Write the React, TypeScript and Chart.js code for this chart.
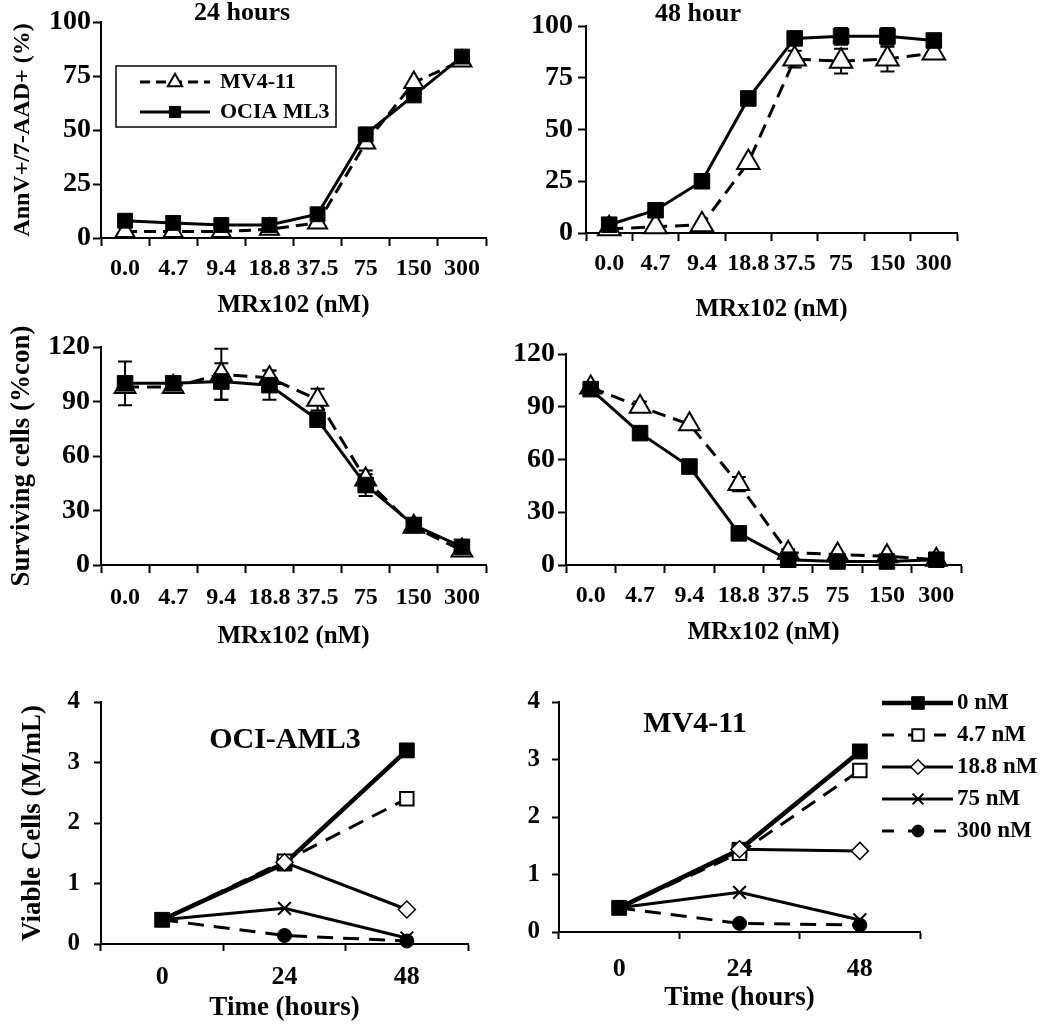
import React, { useEffect, useRef } from "react";
import { Chart, registerables } from "chart.js";
import { drawPoint } from "chart.js/helpers";

Chart.register(...registerables);

// ---------- DATA ----------
const doseLabels = ["0.0", "4.7", "9.4", "18.8", "37.5", "75", "150", "300"];
const timeLabels = ["0", "24", "48"];

// AnnV+/7-AAD+ (%) at 24 hours
const apop24Oci = [8, 7, 6, 6, 11, 48, 66, 84];
const apop24Mv = [3, 3, 3, 4, 7, 44, 72, 82];
// AnnV+/7-AAD+ (%) at 48 hours
const apop48Oci = [4, 11, 25, 65, 94, 95, 95, 93];
const apop48Mv = [2, 3, 4, 34, 84, 83, 84, 87];
const apop48OciErr = [0, 0, 0, 0, 3, 4, 4, 0];
const apop48MvErr = [0, 0, 0, 0, 4, 6, 6, 0];
// Surviving cells (%con) 24 h
const surv24Oci = [100, 100, 101, 99, 80, 44, 22, 10];
const surv24Mv = [98, 98, 105, 103, 91, 47, 21, 8];
const surv24OciErr = [12, 3, 10, 8, 3, 6, 3, 2];
const surv24MvErr = [3, 3, 14, 4, 6, 5, 3, 2];
// Surviving cells (%con) 48 h
const surv48Oci = [100, 75, 56, 18, 3, 2, 2, 3];
const surv48Mv = [101, 90, 80, 46, 7, 6, 5, 3];
const surv48MvErr = [3, 3, 0, 4, 2, 0, 0, 0];

// Viable cells (M/mL) OCI-AML3
const oci0nM = [0.4, 1.33, 3.2];
const oci4p7nM = [0.4, 1.37, 2.4];
const oci18p8nM = [0.4, 1.35, 0.57];
const oci75nM = [0.4, 0.59, 0.1];
const oci300nM = [0.4, 0.14, 0.05];
// Viable cells (M/mL) MV4-11
const mv0nM = [0.42, 1.43, 3.14];
const mv4p7nM = [0.42, 1.37, 2.81];
const mv18p8nM = [0.42, 1.44, 1.41];
const mv75nM = [0.42, 0.69, 0.21];
const mv300nM = [0.42, 0.15, 0.12];

const doseLegend = ["0 nM", "4.7 nM", "18.8 nM", "75 nM", "300 nM"];
const cellLines = ["OCIA ML3", "MV4-11"];

// ---------- STYLE ----------
const FAMILY = '"Liberation Serif", "Times New Roman", Times, serif';
const BLACK = "#000";
const font = (size: number) => ({ family: FAMILY, size, weight: "bold" as const });

type TextItem = { text: string; x: number; y: number; size: number };
type LegendCfg = {
  box?: [number, number, number, number];
  rows: { ds: number; y: number }[];
  x0: number;
  x1: number;
  mx: number;
  tx: number;
  size: number;
  dash: number[];
  markerScale: number;
};

function makeDecor(texts: TextItem[], legend?: LegendCfg) {
  return {
    id: "decor",
    beforeDatasetsDraw(chart: any) {
      const ctx = chart.ctx;
      const ys = chart.scales.y;
      chart.data.datasets.forEach((ds: any, i: number) => {
        if (!ds.errorBars) return;
        const meta = chart.getDatasetMeta(i);
        ctx.save();
        ctx.strokeStyle = BLACK;
        ctx.lineWidth = 2;
        ctx.setLineDash([]);
        meta.data.forEach((pt: any, j: number) => {
          const e = ds.errorBars[j];
          if (!e) return;
          const v = ds.data[j];
          const yt = ys.getPixelForValue(v + e);
          const yb = ys.getPixelForValue(v - e);
          const cw = 7;
          ctx.beginPath();
          ctx.moveTo(pt.x, yt);
          ctx.lineTo(pt.x, yb);
          ctx.moveTo(pt.x - cw, yt);
          ctx.lineTo(pt.x + cw, yt);
          ctx.moveTo(pt.x - cw, yb);
          ctx.lineTo(pt.x + cw, yb);
          ctx.stroke();
        });
        ctx.restore();
      });
    },
    afterDraw(chart: any) {
      const ctx = chart.ctx;
      ctx.save();
      ctx.fillStyle = BLACK;
      ctx.textBaseline = "middle";
      ctx.textAlign = "center";
      texts.forEach((t) => {
        ctx.font = `bold ${t.size}px ${FAMILY}`;
        ctx.fillText(t.text, t.x, t.y);
      });
      if (legend) {
        if (legend.box) {
          const [bx, by, bw, bh] = legend.box;
          ctx.lineWidth = 1.5;
          ctx.strokeStyle = BLACK;
          ctx.strokeRect(bx, by, bw, bh);
        }
        legend.rows.forEach((row) => {
          const ds = chart.data.datasets[row.ds];
          ctx.save();
          ctx.strokeStyle = ds.borderColor;
          ctx.lineWidth = ds.borderWidth;
          ctx.setLineDash(ds.borderDash && ds.borderDash.length ? legend.dash : []);
          ctx.beginPath();
          ctx.moveTo(legend.x0, row.y);
          ctx.lineTo(legend.x1, row.y);
          ctx.stroke();
          ctx.setLineDash([]);
          const r = Array.isArray(ds.pointRadius)
            ? ds.pointRadius[ds.pointRadius.length - 1]
            : ds.pointRadius;
          ctx.fillStyle = ds.pointBackgroundColor;
          ctx.strokeStyle = ds.pointBorderColor;
          ctx.lineWidth = ds.pointBorderWidth;
          drawPoint(
            ctx,
            {
              pointStyle: ds.pointStyle,
              radius: r * legend.markerScale,
              rotation: 0,
              borderWidth: ds.pointBorderWidth,
            } as any,
            legend.mx,
            row.y
          );
          ctx.restore();
          ctx.fillStyle = BLACK;
          ctx.textAlign = "left";
          ctx.font = `bold ${legend.size}px ${FAMILY}`;
          ctx.fillText(ds.label, legend.tx, row.y);
        });
      }
      ctx.restore();
    },
  };
}

type Panel = {
  yWidth: number;
  xHeight: number;
  padTop: number;
  padRight: number;
  yMin: number;
  yMax: number;
  yStep: number;
  yTickSize: number;
  yTickPad: number;
  tickLen: number;
  xTickSize: number;
  xTickPad: number;
  xTitle: string;
  xTitleSize: number;
  xTitlePad: number;
  yTitle?: string;
  yTitleSize?: number;
  yTitlePad?: number;
};

function makeOptions(p: Panel) {
  return {
    responsive: false,
    maintainAspectRatio: false,
    animation: false,
    devicePixelRatio: 1,
    layout: { padding: { left: 0, top: p.padTop, right: p.padRight, bottom: 0 } },
    plugins: {
      legend: { display: false },
      tooltip: { enabled: false },
      title: { display: false },
    },
    elements: { line: { tension: 0 } },
    scales: {
      x: {
        type: "category",
        offset: true,
        grid: {
          offset: true,
          drawOnChartArea: false,
          drawTicks: true,
          tickLength: p.tickLen,
          tickColor: BLACK,
          tickWidth: 2,
          color: BLACK,
        },
        border: { display: true, color: BLACK, width: 2 },
        ticks: {
          color: BLACK,
          font: font(p.xTickSize),
          padding: p.xTickPad,
          maxRotation: 0,
          autoSkip: false,
        },
        title: {
          display: true,
          text: p.xTitle,
          color: BLACK,
          font: font(p.xTitleSize),
          padding: { top: 0, bottom: p.xTitlePad },
        },
        afterFit: (s: any) => {
          s.height = p.xHeight;
        },
      },
      y: {
        type: "linear",
        min: p.yMin,
        max: p.yMax,
        grid: {
          drawOnChartArea: false,
          drawTicks: true,
          tickLength: p.tickLen,
          tickColor: BLACK,
          tickWidth: 2,
          color: BLACK,
        },
        border: { display: true, color: BLACK, width: 2 },
        ticks: {
          stepSize: p.yStep,
          color: BLACK,
          font: font(p.yTickSize),
          padding: p.yTickPad,
        },
        title: {
          display: !!p.yTitle,
          text: p.yTitle || "",
          color: BLACK,
          font: font(p.yTitleSize || 24),
          padding: { top: p.yTitlePad || 0, bottom: 0 },
        },
        afterFit: (s: any) => {
          s.width = p.yWidth;
        },
      },
    },
  };
}

function ociSet(data: number[], sq: number, err?: number[]) {
  return [
    {
      label: cellLines[0],
      data,
      borderColor: BLACK,
      borderWidth: 3,
      pointStyle: "rect",
      pointRadius: sq,
      pointBackgroundColor: BLACK,
      pointBorderColor: BLACK,
      pointBorderWidth: 1,
      clip: false,
      errorBars: err,
    },
  ];
}
function mvSet(data: number[], tri: number, dash: number[], err?: number[]) {
  return [
    {
      label: cellLines[1],
      data,
      borderColor: BLACK,
      borderWidth: 3,
      borderDash: dash,
      pointStyle: "triangle",
      pointRadius: tri,
      pointBackgroundColor: "#fff",
      pointBorderColor: BLACK,
      pointBorderWidth: 2,
      clip: false,
      errorBars: err,
    },
  ];
}

function doseSets(d0: number[], d4: number[], d18: number[], d75: number[], d300: number[]) {
  const dash = [16, 10];
  const s0 = {
    label: doseLegend[0],
    data: d0,
    borderColor: BLACK,
    borderWidth: 4.5,
    pointStyle: "rect",
    pointRadius: 10.5,
    pointBackgroundColor: BLACK,
    pointBorderColor: BLACK,
    pointBorderWidth: 1,
    clip: false,
  };
  const s4 = {
    label: doseLegend[1],
    data: d4,
    borderColor: BLACK,
    borderWidth: 3,
    borderDash: dash,
    pointStyle: "rect",
    pointRadius: [0, 9.5, 9.5],
    pointBackgroundColor: "#fff",
    pointBorderColor: BLACK,
    pointBorderWidth: 2,
    clip: false,
  };
  const s18 = {
    label: doseLegend[2],
    data: d18,
    borderColor: BLACK,
    borderWidth: 3,
    pointStyle: "rectRot",
    pointRadius: [0, 8.5, 8.5],
    pointBackgroundColor: "#fff",
    pointBorderColor: BLACK,
    pointBorderWidth: 1.5,
    clip: false,
  };
  const s75 = {
    label: doseLegend[3],
    data: d75,
    borderColor: BLACK,
    borderWidth: 3,
    pointStyle: "crossRot",
    pointRadius: [0, 9, 9],
    pointBackgroundColor: BLACK,
    pointBorderColor: BLACK,
    pointBorderWidth: 2,
    clip: false,
  };
  const s300 = {
    label: doseLegend[4],
    data: d300,
    borderColor: BLACK,
    borderWidth: 3,
    borderDash: dash,
    pointStyle: "circle",
    pointRadius: [0, 7, 7],
    pointBackgroundColor: BLACK,
    pointBorderColor: BLACK,
    pointBorderWidth: 1,
    clip: false,
  };
  // first dataset is drawn on top
  return [s18, s4, s0, s75, s300];
}

type Box = { x: number; y: number; w: number; h: number };

function ChartPanel({ box, build }: { box: Box; build: () => any }) {
  const ref = useRef<HTMLCanvasElement>(null);
  useEffect(() => {
    const chart = new Chart(ref.current as HTMLCanvasElement, build());
    return () => chart.destroy();
  }, []);
  return (
    <canvas
      ref={ref}
      width={box.w}
      height={box.h}
      style={{ position: "absolute", left: box.x, top: box.y, width: box.w, height: box.h }}
    />
  );
}

const topCommon = {
  yMin: 0,
  tickLen: 8,
  yTickSize: 28,
  xTickSize: 24,
  xTitle: "MRx102 (nM)",
  xTitleSize: 25,
};

const build1 = () => ({
  type: "line",
  data: {
    labels: doseLabels,
    datasets: [...ociSet(apop24Oci, 10.5), ...mvSet(apop24Mv, 11, [12, 7])],
  },
  options: makeOptions({
    ...topCommon,
    yWidth: 101,
    xHeight: 87,
    padTop: 22,
    padRight: 14,
    yMax: 100,
    yStep: 25,
    yTickPad: 2,
    xTickPad: 8,
    xTitlePad: 4,
    yTitle: "AnnV+/7-AAD+ (%)",
    yTitleSize: 24,
    yTitlePad: 8,
  }),
  plugins: [
    makeDecor([{ text: "24 hours", x: 242, y: 13, size: 26 }], {
      box: [116, 66, 220, 61],
      rows: [
        { ds: 1, y: 82 },
        { ds: 0, y: 112 },
      ],
      x0: 140,
      x1: 210,
      mx: 175,
      tx: 220,
      size: 22,
      dash: [10, 6],
      markerScale: 0.75,
    }),
  ],
});

const build2 = () => ({
  type: "line",
  data: {
    labels: doseLabels,
    datasets: [
      ...ociSet(apop48Oci, 11, apop48OciErr),
      ...mvSet(apop48Mv, 13, [14, 8], apop48MvErr),
    ],
  },
  options: makeOptions({
    ...topCommon,
    yWidth: 86,
    xHeight: 92,
    padTop: 26,
    padRight: 93,
    yMax: 100,
    yStep: 25,
    yTickPad: 5,
    xTickPad: 8,
    xTitlePad: 0,
  }),
  plugins: [makeDecor([{ text: "48 hour", x: 198, y: 14, size: 26 }])],
});

const build3 = () => ({
  type: "line",
  data: {
    labels: doseLabels,
    datasets: [
      ...ociSet(surv24Oci, 11, surv24OciErr),
      ...mvSet(surv24Mv, 12, [14, 8], surv24MvErr),
    ],
  },
  options: makeOptions({
    ...topCommon,
    yWidth: 101,
    xHeight: 87,
    padTop: 22,
    padRight: 12,
    yMax: 120,
    yStep: 30,
    yTickPad: 3,
    xTickPad: 10,
    xTitlePad: 0,
    yTitle: "Surviving cells (%con)",
    yTitleSize: 27,
    yTitlePad: 6,
  }),
  plugins: [makeDecor([])],
});

const build4 = () => ({
  type: "line",
  data: {
    labels: doseLabels,
    datasets: [
      ...ociSet(surv48Oci, 11),
      ...mvSet(surv48Mv, 12, [14, 8], surv48MvErr),
    ],
  },
  options: makeOptions({
    ...topCommon,
    yWidth: 66,
    xHeight: 87,
    padTop: 29,
    padRight: 89,
    yMax: 120,
    yStep: 30,
    yTickPad: 3,
    xTickPad: 8,
    xTitlePad: 4,
  }),
  plugins: [makeDecor([])],
});

const bottomCommon = {
  yMin: 0,
  yMax: 4,
  yStep: 1,
  tickLen: 7,
  yTickSize: 25,
  xTickSize: 26,
  xTitle: "Time (hours)",
  xTitleSize: 27,
};

const build5 = () => ({
  type: "line",
  data: {
    labels: timeLabels,
    datasets: doseSets(oci0nM, oci4p7nM, oci18p8nM, oci75nM, oci300nM),
  },
  options: makeOptions({
    ...bottomCommon,
    yWidth: 101,
    xHeight: 84,
    padTop: 50,
    padRight: 32,
    yTickPad: 14,
    xTickPad: 11,
    xTitlePad: 4,
    yTitle: "Viable Cells (M/mL)",
    yTitleSize: 27,
    yTitlePad: 17,
  }),
  plugins: [makeDecor([{ text: "OCI-AML3", x: 285, y: 88, size: 30 }])],
});

const build6 = () => ({
  type: "line",
  data: {
    labels: timeLabels,
    datasets: doseSets(mv0nM, mv4p7nM, mv18p8nM, mv75nM, mv300nM),
  },
  options: makeOptions({
    ...bottomCommon,
    yWidth: 59,
    xHeight: 96,
    padTop: 50,
    padRight: 130,
    yTickPad: 12,
    xTickPad: 15,
    xTitlePad: 14,
  }),
  plugins: [
    makeDecor([{ text: "MV4-11", x: 195, y: 72, size: 30 }], {
      rows: [
        { ds: 2, y: 51 },
        { ds: 1, y: 83 },
        { ds: 0, y: 115 },
        { ds: 3, y: 147 },
        { ds: 4, y: 179 },
      ],
      x0: 382,
      x1: 453,
      mx: 418,
      tx: 457,
      size: 23,
      dash: [12, 14],
      markerScale: 0.85,
    }),
  ],
});

export default function App() {
  return (
    <div
      style={{
        position: "absolute",
        left: 0,
        top: 0,
        width: 1050,
        height: 1028,
        background: "#fff",
        overflow: "hidden",
      }}
    >
      <ChartPanel box={{ x: 0, y: 0, w: 500, h: 325 }} build={build1} />
      <ChartPanel box={{ x: 500, y: 0, w: 550, h: 325 }} build={build2} />
      <ChartPanel box={{ x: 0, y: 325, w: 500, h: 327 }} build={build3} />
      <ChartPanel box={{ x: 500, y: 325, w: 550, h: 327 }} build={build4} />
      <ChartPanel box={{ x: 0, y: 652, w: 500, h: 376 }} build={build5} />
      <ChartPanel box={{ x: 500, y: 652, w: 550, h: 376 }} build={build6} />
    </div>
  );
}
